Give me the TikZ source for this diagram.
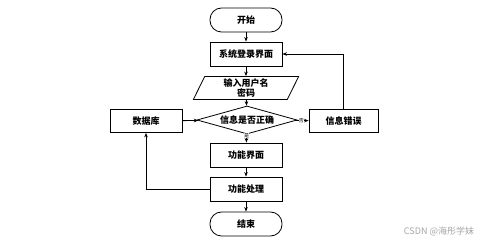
\documentclass[tikz,border=0pt]{standalone}
\usepackage{fontspec}
\usetikzlibrary{arrows.meta,positioning,shapes.geometric}
\newfontfamily\cjk{Noto Sans CJK SC}
\tikzset{
  box/.style={rectangle, draw, line width=0.8pt, inner sep=1pt, minimum width=72pt, minimum height=24pt, font=\cjk\bfseries\fontsize{9}{10.5}\selectfont},
  term/.style={box, rounded corners=11.5pt},
  io/.style={box, trapezium, trapezium left angle=71, trapezium right angle=109, trapezium stretches=true, inner sep=0pt, minimum width=106pt, minimum height=23pt, align=center, font=\cjk\bfseries\fontsize{9}{9.5}\selectfont},
  ask/.style={box, diamond, aspect=4, inner sep=0pt, minimum width=100pt, minimum height=28pt},
  link/.style={-{Stealth[length=4.5pt,width=3.5pt]}, line width=0.8pt},
  lbl/.style={font=\cjk\fontsize{5}{5}\selectfont, fill=white, inner sep=0.3pt},
}
\begin{document}
\begin{tikzpicture}[x=1pt, y=-1pt]
  \useasboundingbox[fill=white] (0,0) rectangle (499,240);
  % main column
  \node[term] (start) at (246,20) {开始};
  \node[box]  (login) at (246,54) {系统登录界面};
  \node[io]   (input) at (246,88) {输入用户名\\密码};
  \node[ask]  (check) at (247,120) {信息是否正确};
  \node[box]  (menu)  at (246,155) {功能界面};
  \node[box]  (work)  at (246,189) {功能处理};
  \node[term] (stop)  at (246,224) {结束};
  % side boxes
  \node[box, minimum height=23pt] (db)  at (146,121) {数据库};
  \node[box, minimum width=69pt, minimum height=23pt] (err) at (343.5,121) {信息错误};
  % connectors
  \draw[link] (start) -- (login);
  \draw[link] (login) -- (input);
  \draw[link] (input) -- (check);
  \draw[link] (check) -- node[lbl, pos=0.2] {是} (menu);
  \draw[link] (check) -- node[lbl, pos=0.45] {否} (err);
  \draw[link] (db) -- (check);
  \draw[link] (menu) -- (work);
  \draw[link] (work) -- (stop);
  \draw[link] (err.north) |- (login.east);
  \draw[link] (work.west) -| (db.south);
  % watermark
  \node[font=\cjk\fontsize{9}{10}\selectfont, text=black!35] (mark) at (439,231) {CSDN @海彤学妹};
\end{tikzpicture}
\end{document}
